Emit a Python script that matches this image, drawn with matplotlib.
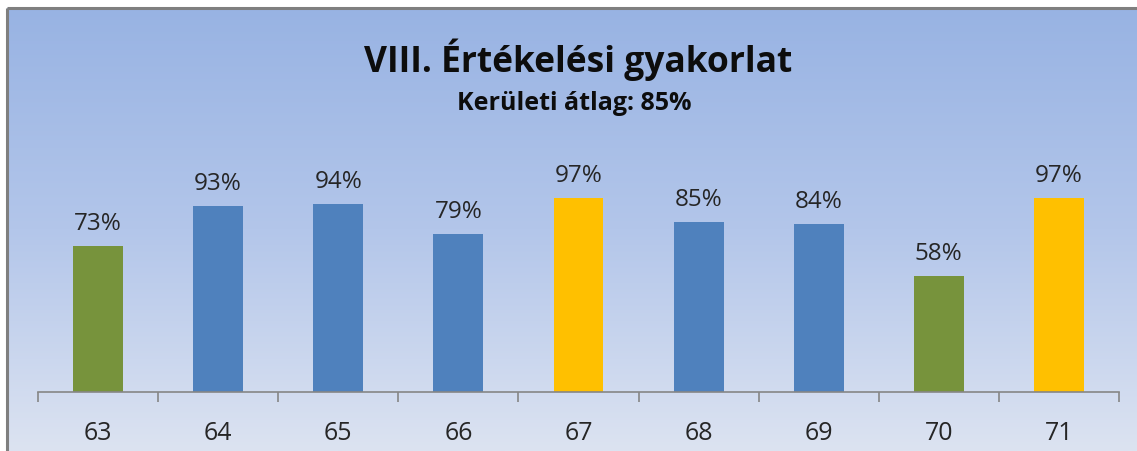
import numpy as np
import matplotlib
matplotlib.use("Agg")
import matplotlib.pyplot as plt
from matplotlib.colors import LinearSegmentedColormap

categories = ["63", "64", "65", "66", "67", "68", "69", "70", "71"]
values = [73, 93, 94, 79, 97, 85, 84, 58, 97]
bar_colors = ["#77933c", "#4f81bd", "#4f81bd", "#4f81bd", "#ffc000",
              "#4f81bd", "#4f81bd", "#77933c", "#ffc000"]
title = "VIII. Értékelési gyakorlat"
subtitle = "Kerületi átlag: 85%"

W, H = 1137, 452
fig = plt.figure(figsize=(W / 100, H / 100), dpi=100)
fig.patch.set_facecolor("white")

# background gradient panel
bg = fig.add_axes([0, 0, 1, 1])
bg.set_xlim(0, W)
bg.set_ylim(H, 0)
bg.axis("off")
cmap = LinearSegmentedColormap.from_list("g", ["#98b3e3", "#b3c6ea", "#dce3f1"])
grad = np.linspace(0, 1, 256).reshape(-1, 1)
bg.imshow(grad, cmap=cmap, aspect="auto", extent=[7, W, H, 9], zorder=0)
bg.plot([7, 7], [H, 9], color="#7f7f7f", lw=2.2, solid_capstyle="butt", zorder=1)
bg.plot([7, W], [9, 9], color="#7f7f7f", lw=2.2, solid_capstyle="butt", zorder=1)

# plot axes: x from 38 to 1119 px, baseline at y=393, 2 px per unit
x0, x1 = 38, 1119
ybase = 393
ax = fig.add_axes([x0 / W, (H - ybase) / H, (x1 - x0) / W, 240 / H])
ax.patch.set_alpha(0)
x = np.arange(len(categories))
bars = ax.bar(x, values, width=0.415, color=bar_colors, zorder=2)
ax.set_xlim(-0.5, len(categories) - 0.5)
ax.set_ylim(0, 120)
for s in ["top", "right", "left"]:
    ax.spines[s].set_visible(False)
ax.spines["bottom"].set_color("#868686")
ax.spines["bottom"].set_linewidth(1.2)
ax.set_yticks([])
ax.set_xticks(np.arange(-0.5, len(categories), 1.0))
ax.set_xticklabels([])
ax.tick_params(axis="x", length=7, width=1.2, color="#868686", direction="out")
ax.set_xticks(x, minor=True)
ax.set_xticklabels(categories, minor=True, fontsize=18, fontfamily="Open Sans", color="#262626")
ax.tick_params(axis="x", which="minor", length=0, pad=20)

for xi, v in zip(x, values):
    ax.annotate(f"{v}%", (xi, v), xytext=(0, 8), textcoords="offset points",
                ha="center", va="bottom", fontsize=17.5, fontfamily="Open Sans", color="#262626")

fig.text(578 / W, 1 - 60 / H, title, ha="center", va="center", fontsize=25.5,
         fontweight="bold", fontfamily="Open Sans", color="#0d0d0d")
fig.text(574 / W, 1 - 104 / H, subtitle, ha="center", va="center", fontsize=18,
         fontweight="bold", fontfamily="Open Sans", color="#0d0d0d")

fig.savefig("out.png", dpi=100)
